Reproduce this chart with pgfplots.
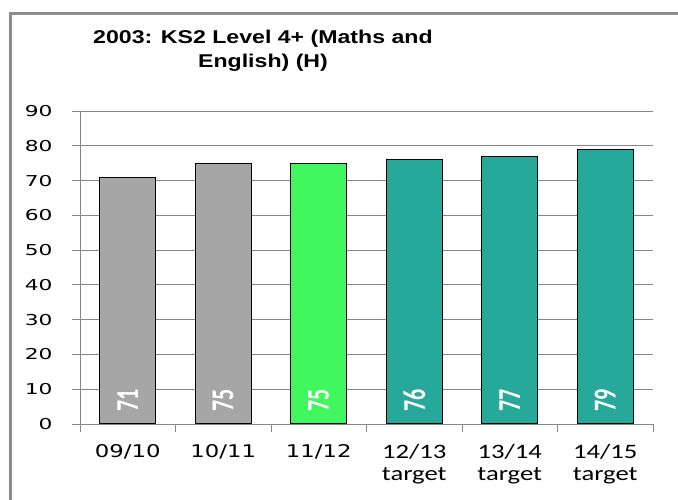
\documentclass[border=0pt]{standalone}
\usepackage{pgfplots}
\pgfplotsset{compat=1.18}
\usepackage{fontspec}
\setmainfont{DejaVu Sans}
\newfontfamily\titlefont[FakeStretch=1.25]{Liberation Sans}
\newfontfamily\dvx[FakeStretch=1.3]{DejaVu Sans}
\newfontfamily\dvy[FakeStretch=1.45]{DejaVu Sans}
\newfontfamily\carl[FakeStretch=1.3]{Carlito}
\newfontfamily\carlv{Carlito}
\newcommand\xa{\dvx\fontsize{17.5}{27}\selectfont}
\newcommand\xb{\carl\fontsize{20.5}{27}\selectfont}
\definecolor{axisgray}{HTML}{868686}
\definecolor{framegray}{HTML}{8C8C8C}
\definecolor{bargray}{HTML}{A6A6A6}
\definecolor{bargreen}{HTML}{40F760}
\definecolor{barteal}{HTML}{26A99B}
\begin{document}
\begin{tikzpicture}
\begin{axis}[
  name=ax,
  scale only axis,
  width=573pt, height=313pt,
  xmin=-0.5, xmax=5.5,
  ymin=0, ymax=90,
  ytick={0,10,...,90},
  xtick={-0.5,0.5,...,5.5},
  x tick label as interval,
  xticklabels={{\xa 09/10},{\xa 10/11},{\xa 11/12},{\xb 12/13\\[7pt]\xb target},{\xb 13/14\\[7pt]\xb target},{\xb 14/15\\[7pt]\xb target}},
  xticklabel style={align=center, text=black, yshift=-9pt},
  /pgf/number format/assume math mode=true,
  yticklabel style={font=\dvy\fontsize{15}{18}\selectfont, text=black, anchor=east},
  yticklabel shift=16pt,
  axis x line*=bottom,
  axis y line*=left,
  axis line style={draw=axisgray, line width=0.8pt, -},
  tick align=outside,
  major tick length=8pt,
  tick style={draw=axisgray, line width=0.8pt},
  ymajorgrids,
  grid style={draw=axisgray, line width=0.8pt},
  clip=false,
]
\addplot[ybar, bar width=0.59, bar shift=0pt, fill=bargray, draw=black, line width=1pt]
  coordinates {(0,71) (1,75)};
\addplot[ybar, bar width=0.59, bar shift=0pt, fill=bargreen, draw=black, line width=1pt]
  coordinates {(2,75)};
\addplot[ybar, bar width=0.59, bar shift=0pt, fill=barteal, draw=black, line width=1pt]
  coordinates {(3,76) (4,77) (5,79)};
\addplot[draw=none, mark=none, point meta=explicit symbolic,
  nodes near coords={\scalebox{1.45}[1]{\rotatebox{90}{\carlv\bfseries\fontsize{22}{22}\selectfont\pgfplotspointmeta}}},
  nodes near coords align={center},
  every node near coord/.append style={anchor=center, text=white, inner sep=0pt}]
  coordinates {(0,6.8) [71] (1,6.8) [75] (2,6.8) [75] (3,6.8) [76] (4,6.8) [77] (5,6.8) [79]};
\end{axis}
\pgfresetboundingbox
\path ([xshift=-80pt,yshift=-76pt]ax.south west) coordinate (B);
\useasboundingbox (B) rectangle ([shift={(678pt,500pt)}]B);
\draw[framegray, line width=3pt] ([shift={(10.5pt,-10pt)}]B) |- ([shift={(700pt,486.3pt)}]B);
\node[align=center, inner sep=0pt, font=\titlefont\bfseries\fontsize{18.5}{23.5}\selectfont]
  at ([shift={(263pt,449pt)}]B) {2003: KS2 Level 4+ (Maths and\\English) (H)};
\end{tikzpicture}
\end{document}
